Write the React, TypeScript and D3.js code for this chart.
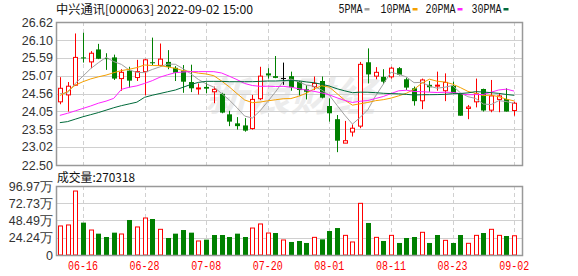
import React from 'react';
import * as d3 from 'd3';

const dates = [
  '06-13','06-14','06-15','06-16','06-17','06-20','06-21','06-22','06-23','06-24',
  '06-27','06-28','06-29','06-30','07-01','07-04','07-05','07-06','07-07','07-08',
  '07-11','07-12','07-13','07-14','07-15','07-18','07-19','07-20','07-21','07-22',
  '07-25','07-26','07-27','07-28','07-29','08-01','08-02','08-03','08-04','08-05',
  '08-08','08-09','08-10','08-11','08-12','08-15','08-16','08-17','08-18','08-19',
  '08-22','08-23','08-24','08-25','08-26','08-29','08-30','08-31','09-01','09-02',
];

const opens = [
  24.32,24.52,24.80,25.60,25.47,25.83,25.58,25.60,24.99,25.22,
  25.02,25.19,25.46,25.37,25.47,25.30,25.22,24.89,24.70,24.75,
  24.61,24.55,23.96,23.70,23.64,23.55,24.41,25.14,25.06,24.99,
  25.06,24.90,24.68,24.76,24.92,24.20,23.82,23.13,23.45,23.62,
  25.46,25.06,25.04,25.04,25.29,24.97,24.71,24.35,24.81,24.78,
  24.64,24.78,24.55,24.13,24.32,24.69,24.08,24.39,24.40,24.07,
];
const highs = [
  25.03,24.89,26.29,26.31,25.78,25.99,25.72,25.68,25.26,25.33,
  25.53,25.56,26.17,26.00,25.81,25.35,25.38,25.39,24.85,24.88,
  24.76,24.58,24.06,23.88,23.85,24.52,25.33,25.29,25.64,25.45,
  25.19,24.92,24.80,25.05,25.05,24.42,23.94,23.77,23.67,25.47,
  25.86,25.32,25.26,25.33,25.32,25.02,24.76,24.99,24.92,25.19,
  25.14,24.90,24.57,24.23,24.99,24.70,24.95,24.57,24.71,24.32,
];
const lows = [
  24.25,24.04,24.78,25.45,25.29,25.55,25.24,24.95,24.64,24.73,
  24.92,24.51,25.38,25.35,25.26,24.92,24.58,24.60,24.53,24.57,
  24.28,23.99,23.62,23.52,23.46,23.52,24.37,24.99,25.00,24.81,
  24.64,24.50,24.39,24.66,24.42,23.75,22.87,23.13,23.32,23.56,
  24.85,24.97,24.83,24.99,25.08,24.66,24.21,24.11,24.61,24.64,
  24.34,24.56,23.92,23.82,24.16,24.04,24.02,24.02,24.04,23.92,
];
const closes = [
  24.71,24.77,25.60,25.58,25.72,25.56,25.55,24.99,25.17,24.93,
  25.19,25.53,25.44,25.55,25.33,25.16,24.90,24.71,24.72,24.70,
  24.68,24.01,23.75,23.62,23.49,24.39,25.06,25.08,25.01,24.99,
  24.74,24.66,24.61,24.85,24.44,23.99,23.20,23.20,23.56,25.40,
  25.11,25.17,24.90,25.29,25.10,24.73,24.34,24.95,24.74,24.80,
  24.88,24.57,23.92,24.17,24.55,24.07,24.49,24.49,24.04,24.28,
];

// volume in 万
const volumes = [
  40.8,42.2,89.9,45.5,35.1,30.0,25.3,31.4,29.5,49.2,
  39.4,52.0,50.6,36.1,23.9,30.0,35.1,31.4,19.7,21.6,
  28.1,28.1,25.3,30.0,25.3,37.9,43.6,30.9,30.9,21.1,
  18.3,19.7,16.9,24.8,22.0,33.7,37.9,27.6,18.3,72.6,
  45.0,24.8,19.7,27.6,16.9,23.9,25.3,31.9,16.9,28.1,
  20.6,16.9,28.1,16.4,27.6,30.9,36.1,27.6,26.7,27.03,
];
// 1 = red (up) volume bar, 0 = green
const volUp = [
  1,1,1,0,1,0,0,0,1,0,
  1,1,0,1,0,0,0,0,1,0,
  0,0,0,0,0,1,1,1,0,1,
  0,0,0,1,0,0,0,1,1,1,
  0,1,0,1,0,0,0,1,0,0,
  1,0,0,1,1,0,1,1,0,1,
];

const ma5Lead = [24.55, 24.58, 24.85, 25.06];
const ma10Lead = [24.50, 24.62, 24.80, 24.90, 24.98, 25.04, 25.09, 25.16, 25.22];
const ma20Lead = [23.93, 23.99, 24.06, 24.13, 24.20, 24.28, 24.34, 24.42, 24.68, 24.74,
  24.78, 24.85, 24.93, 25.03, 25.10, 25.16, 25.18, 25.19, 25.19];
const ma30Lead = [23.72, 23.75, 23.82, 23.89, 23.95, 24.01, 24.08, 24.15, 24.21, 24.26,
  24.31, 24.45, 24.51, 24.56, 24.61, 24.66, 24.74, 24.82, 24.88, 24.91,
  24.91, 24.91, 24.90, 24.90, 24.90, 24.90, 24.91, 24.92, 24.92];

const priceTicks = [22.50, 23.02, 23.53, 24.05, 24.56, 25.07, 25.59, 26.10, 26.62];
const priceTickLabels = ['22.50', '23.02', '23.53', '24.05', '24.56', '25.07', '25.59', '26.10', '26.62'];
const volTicks = [0, 24.24, 48.49, 72.73, 96.97];
const volTickLabels = ['0', '24.24万', '48.49万', '72.73万', '96.97万'];
const tickDates = ['06-16', '06-28', '07-08', '07-20', '08-01', '08-11', '08-23', '09-02'];

const maNames = ['5PMA', '10PMA', '20PMA', '30PMA'];
const maColors = ['#a0a0a0', '#f5a000', '#ff22ff', '#006a3a'];

const title = '中兴通讯[000063] 2022-09-02 15:00';
const volTitle = '成交量:270318';

function movingAvg(n: number, lead: number[]) {
  return closes.map((_, i) => {
    if (i < n - 1) return lead[i];
    return d3.mean(closes.slice(i - n + 1, i + 1)) as number;
  });
}

export default function App() {
  const W = 578, H = 276;
  const L = 56, R = 522;
  const pTop = 22, pBot = 165;
  const vTop = 186, vBot = 255;

  const x = d3.scaleBand<number>().domain(d3.range(dates.length)).range([L, L + 7.7 * dates.length]);
  const cx = (i: number) => (x(i) as number) + x.bandwidth() / 2;
  const y = d3.scaleLinear().domain([22.5, 26.62]).range([pBot, pTop]);
  const yv = d3.scaleLinear().domain([0, 96.97]).range([vBot, vTop]);

  const mas = [movingAvg(5, ma5Lead), movingAvg(10, ma10Lead), movingAvg(20, ma20Lead), movingAvg(30, ma30Lead)];
  const line = d3.line<number>().x((_, i) => cx(i)).y((d) => y(d));

  const crisp = (v: number) => Math.round(v) + 0.5;
  const gridColor = '#d0d0d0';
  const frameColor = '#999';
  const labelFont = "'Liberation Sans', Arial, sans-serif";
  const monoFont = "'Liberation Mono', 'Courier New', monospace";

  const legendX = [338.5, 380.5, 425.5, 471.5];
  const legendW = [24, 30, 30, 30];

  return (
    <svg width={W} height={H} style={{ position: 'absolute', left: 0, top: 0, background: '#fff' }}>
      <rect x={0} y={0} width={W} height={H} fill="#fff" />
      {/* title */}
      <text x={56} y={13.5} fontSize={12} fontFamily="'Noto Sans CJK SC', sans-serif" fill="#111"
        textLength={197} lengthAdjust="spacingAndGlyphs">{title}</text>
      {/* legend */}
      {maNames.map((n, k) => (
        <g key={n}>
          <text x={legendX[k]} y={13} fontSize={12} fontFamily={monoFont} fill="#111"
            textLength={legendW[k]} lengthAdjust="spacingAndGlyphs">{n}</text>
          <rect x={legendX[k] + legendW[k] + 2} y={8} width={5} height={2.5} fill={maColors[k]} />
        </g>
      ))}

      {/* watermark */}
      <text x={205} y={111} fontSize={40} fontWeight="bold" fontStyle="italic"
        fontFamily="'Noto Sans CJK SC', sans-serif" fill="#ececec" textLength={170}
        lengthAdjust="spacingAndGlyphs">新浪财经</text>

      {/* price grid */}
      {priceTicks.map((t) => (
        <line key={'pg' + t} x1={L} x2={R} y1={crisp(y(t))} y2={crisp(y(t))} stroke={gridColor} strokeWidth={1} />
      ))}
      {tickDates.map((d) => {
        const xi = crisp(cx(dates.indexOf(d)));
        return (
          <g key={'vd' + d}>
            <line x1={xi} x2={xi} y1={pTop} y2={pBot} stroke={gridColor} strokeDasharray="4,3" />
            <line x1={xi} x2={xi} y1={vTop} y2={vBot} stroke={gridColor} strokeDasharray="4,3" />
          </g>
        );
      })}
      {priceTicks.map((t, k) => (
        <text key={'pl' + t} x={53} y={y(t)} dy="0.36em" textAnchor="end" fontSize={12.5}
          fontFamily={labelFont} fill="#333">{priceTickLabels[k]}</text>
      ))}

      {/* candles */}
      {closes.map((c, i) => {
        const o = opens[i];
        const xc = Math.round(cx(i)) + 0.5;
        const up = c > o;
        const flat = c === o;
        const color = flat ? '#000' : up ? '#f00' : '#008000';
        const top = y(Math.max(o, c));
        const bot = y(Math.min(o, c));
        const bh = Math.max(bot - top, 1);
        return (
          <g key={'c' + i}>
            <line x1={xc} x2={xc} y1={y(highs[i])} y2={y(lows[i])} stroke={color} strokeWidth={1} />
            {flat ? (
              <line x1={xc - 2.5} x2={xc + 2.5} y1={top} y2={top} stroke={color} />
            ) : up ? (
              <rect x={xc - 2} y={top} width={4} height={bh} fill="#fff" stroke={color} strokeWidth={1} />
            ) : (
              <rect x={xc - 2.5} y={top} width={5} height={bh} fill={color} />
            )}
          </g>
        );
      })}

      {/* moving averages */}
      {mas.map((m, k) => (
        <path key={'ma' + k} d={line(m) as string} fill="none" stroke={maColors[k]} strokeWidth={1} />
      ))}

      <rect x={L + 0.5} y={pTop + 0.5} width={R - L} height={pBot - pTop} fill="none" stroke={frameColor} strokeWidth={1.5} />

      {/* volume */}
      <text x={57} y={182} fontSize={12} fontFamily="'Noto Sans CJK SC', sans-serif" fill="#111"
        textLength={78} lengthAdjust="spacingAndGlyphs">{volTitle}</text>
      {volTicks.map((t) => (
        <line key={'vg' + t} x1={L} x2={R} y1={crisp(yv(t))} y2={crisp(yv(t))} stroke={gridColor} strokeWidth={1} />
      ))}
      {volTicks.map((t, k) => (
        <text key={'vl' + t} x={53} y={yv(t)} dy="0.36em" textAnchor="end" fontSize={12.5}
          fontFamily={labelFont} fill="#333">{volTickLabels[k]}</text>
      ))}
      {volumes.map((v, i) => {
        const xc = Math.round(cx(i)) + 0.5;
        const top = yv(v);
        return volUp[i] ? (
          <rect key={'v' + i} x={xc - 2} y={top} width={4} height={vBot - top} fill="#fff" stroke="#f00" strokeWidth={1} />
        ) : (
          <rect key={'v' + i} x={xc - 2.5} y={top} width={5} height={vBot - top} fill="#008000" />
        );
      })}
      <rect x={L + 0.5} y={vTop + 0.5} width={R - L} height={vBot - vTop} fill="none" stroke={frameColor} strokeWidth={1.5} />

      {/* date labels */}
      {tickDates.map((d) => (
        <text key={'dl' + d} x={cx(dates.indexOf(d))} y={270} textAnchor="middle" fontSize={12}
          fontFamily={monoFont} fill="#f00" textLength={30} lengthAdjust="spacingAndGlyphs">{d}</text>
      ))}
    </svg>
  );
}
